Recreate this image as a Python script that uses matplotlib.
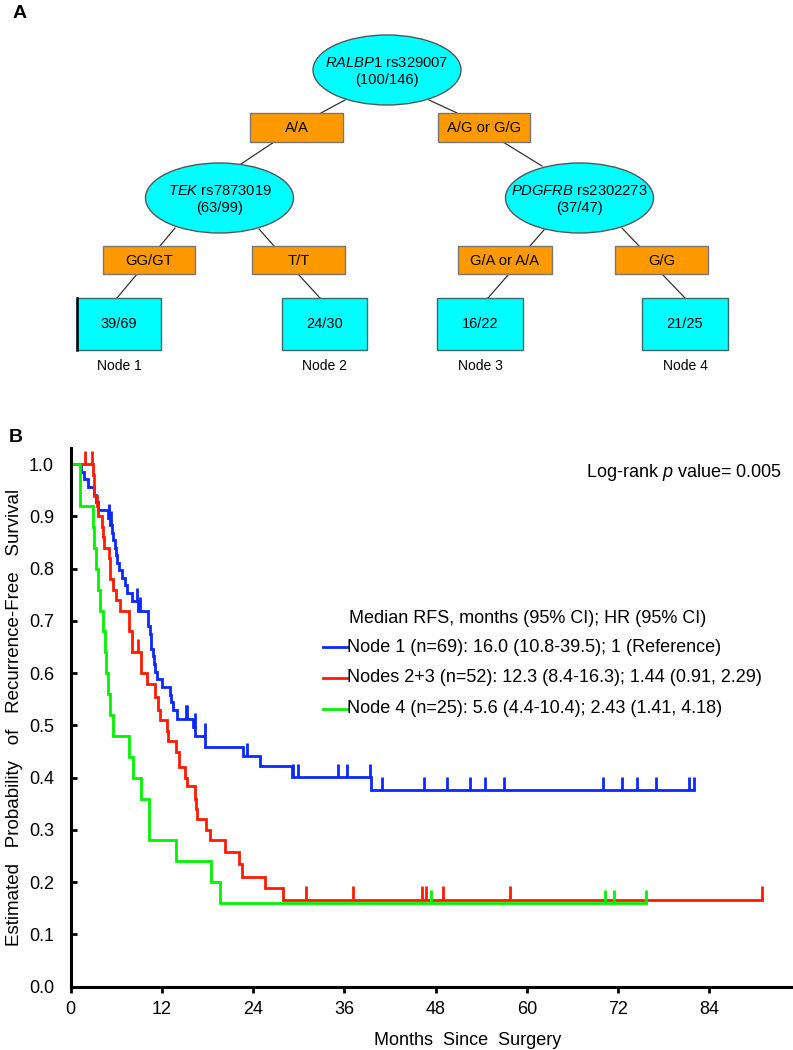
import numpy as np
import matplotlib
matplotlib.use('Agg')
import matplotlib.pyplot as plt
from matplotlib.patches import Ellipse, Rectangle

# ---- data: panel A (tree) ----
split_genes = ["RALBP1", "TEK", "PDGFRB"]
split_snps = ["rs329007", "rs7873019", "rs2302273"]
split_counts = ["(100/146)", "(63/99)", "(37/47)"]
branch_labels = ["A/A", "A/G or G/G", "GG/GT", "T/T", "G/A or A/A", "G/G"]
leaf_counts = ["39/69", "24/30", "16/22", "21/25"]
leaf_names = ["Node 1", "Node 2", "Node 3", "Node 4"]

# ---- data: panel B (Kaplan-Meier curves) ----
blue_t = [0, 1.4, 1.7, 2.3, 3.0, 3.3, 3.6, 4.95, 5.1, 5.4, 5.5, 5.8, 5.9, 6.05, 6.4, 6.7, 7.2, 7.4, 8.0, 8.9,
          10.1, 10.2, 10.4, 10.5, 10.6, 10.8, 10.9, 11.1, 11.3, 12.0, 13.1, 13.2, 13.4, 14.0, 16.1, 16.4, 17.7,
          22.6, 24.9, 29.1, 39.5]
blue_s = [1.0, 0.986, 0.971, 0.957, 0.942, 0.928, 0.913, 0.898, 0.884, 0.869, 0.855, 0.840, 0.826, 0.811, 0.797,
          0.782, 0.768, 0.753, 0.738, 0.720, 0.705, 0.690, 0.676, 0.661, 0.646, 0.632, 0.617, 0.603, 0.588, 0.574,
          0.559, 0.544, 0.529, 0.513, 0.497, 0.479, 0.459, 0.441, 0.422, 0.401, 0.376]
blue_cens = [5.0, 5.3, 8.7, 9.1, 15.1, 15.3, 16.3, 17.6, 23.2, 29.3, 29.9, 35.1, 36.4, 39.4, 41.0, 46.5, 49.5,
             52.5, 54.5, 57.0, 70.0, 72.5, 74.5, 77.0, 81.4, 82.0]
blue_end = 82.0

red_t = [0, 2.9, 3.0, 3.1, 3.5, 3.6, 4.1, 4.3, 4.4, 5.0, 5.1, 5.2, 5.6, 6.0, 6.5, 7.6, 7.7, 8.0, 8.1, 9.2,
         9.3, 10.0, 11.1, 11.5, 11.75, 12.6, 12.8, 13.9, 14.2, 14.3, 15.0, 15.3, 16.4, 16.5, 16.6, 17.8, 18.3,
         20.3, 22.1, 22.5, 25.6, 27.9]
red_s = [1.0, 0.98, 0.96, 0.94, 0.92, 0.90, 0.88, 0.86, 0.84, 0.82, 0.80, 0.78, 0.76, 0.74, 0.72, 0.70, 0.68,
         0.66, 0.64, 0.62, 0.60, 0.58, 0.555, 0.53, 0.51, 0.49, 0.47, 0.45, 0.43, 0.42, 0.40, 0.385, 0.36, 0.34,
         0.32, 0.30, 0.28, 0.258, 0.235, 0.21, 0.188, 0.166]
red_cens = [1.9, 2.8, 8.9, 31.0, 37.1, 46.2, 46.8, 49.0, 57.8, 91.0]
red_end = 91.0

green_t = [0, 1.2, 2.9, 3.1, 3.3, 3.6, 3.9, 4.3, 4.5, 4.7, 4.9, 5.1, 5.5, 7.6, 8.2, 9.2, 10.3, 13.9, 18.5, 19.6]
green_s = [1.0, 0.92, 0.88, 0.84, 0.80, 0.76, 0.72, 0.68, 0.64, 0.60, 0.56, 0.52, 0.48, 0.44, 0.40, 0.36, 0.28,
           0.24, 0.20, 0.16]
green_cens = [47.4, 70.3, 71.5, 75.7]
green_end = 75.7

legend_header = "Median RFS, months (95% CI); HR (95% CI)"
legend_labels = ["Node 1 (n=69): 16.0 (10.8-39.5); 1 (Reference)",
                 "Nodes 2+3 (n=52): 12.3 (8.4-16.3); 1.44 (0.91, 2.29)",
                 "Node 4 (n=25): 5.6 (4.4-10.4); 2.43 (1.41, 4.18)"]
logrank_p = "0.005"
x_ticks = [0, 12, 24, 36, 48, 60, 72, 84]
y_ticks = [0.0, 0.1, 0.2, 0.3, 0.4, 0.5, 0.6, 0.7, 0.8, 0.9, 1.0]

plt.rcParams['font.family'] = ['Liberation Sans', 'DejaVu Sans']
plt.rcParams['mathtext.fontset'] = 'custom'
plt.rcParams['mathtext.rm'] = 'Liberation Sans'
plt.rcParams['mathtext.it'] = 'Liberation Sans:italic'

fig = plt.figure(figsize=(7.93, 10.5), dpi=100)

# ---------- panel A: tree drawn in pixel coordinates ----------
tx = fig.add_axes([0, 0, 1, 1])
tx.set_xlim(0, 793)
tx.set_ylim(1050, 0)
tx.axis('off')

ell_pos = [(387, 70), (219.5, 198), (579.5, 198)]
branch_box = [(250, 113, 93, 29), (438, 113, 92, 29), (103, 246, 92, 28),
              (252, 246, 93, 28), (458, 246, 94, 28), (615, 246, 93, 28)]
leaf_box = [(77, 298, 84, 52), (282, 298, 85, 52), (437, 298, 86, 52), (642, 298, 86, 52)]
connectors = [((345, 100), (321, 113)), ((429, 100), (457, 113)),
              ((274, 142), (241, 164)), ((503, 142), (542, 166)),
              ((175, 228), (160, 246)), ((259, 229), (274, 246)),
              ((137, 274), (117, 298)), ((298, 274), (320, 298)),
              ((544, 230), (530, 246)), ((622, 228), (639, 246)),
              ((509, 274), (488, 298)), ((662, 274), (685, 298))]

for (x0, y0), (x1, y1) in connectors:
    tx.plot([x0, x1], [y0, y1], color='#333333', lw=0.9, zorder=1)

for (cx, cy), gene, snp, cnt in zip(ell_pos, split_genes, split_snps, split_counts):
    tx.add_patch(Ellipse((cx, cy), 148, 70, facecolor='#00FFFF', edgecolor='#555555', lw=1.0, zorder=2))
    tx.text(cx, cy - 7, r'$\mathit{%s}$ %s' % (gene, snp), ha='center', va='center', fontsize=10.6, zorder=3)
    tx.text(cx, cy + 10, cnt, ha='center', va='center', fontsize=10.6, zorder=3)

for (x, y, w, h), lab in zip(branch_box, branch_labels):
    tx.add_patch(Rectangle((x, y), w, h, facecolor='#FF9900', edgecolor='#777777', lw=1.0, zorder=2))
    tx.text(x + w / 2, y + h / 2 + 1, lab, ha='center', va='center', fontsize=10.6, zorder=3)

for (x, y, w, h), cnt, name in zip(leaf_box, leaf_counts, leaf_names):
    tx.add_patch(Rectangle((x, y), w, h, facecolor='#00FFFF', edgecolor='#3A6A6A', lw=1.0, zorder=2))
    tx.text(x + w / 2, y + h / 2, cnt, ha='center', va='center', fontsize=10.5, zorder=3)
    tx.text(x + w / 2, y + h + 16, name, ha='center', va='center', fontsize=10, zorder=3)
x, y, w, h = leaf_box[0]
tx.plot([x, x], [y, y + h], color='black', lw=1.8, zorder=3)

tx.text(20, 14, 'A', ha='center', va='center', fontsize=14, fontweight='bold')
tx.text(16, 438, 'B', ha='center', va='center', fontsize=14, fontweight='bold')

# ---------- panel B: Kaplan-Meier ----------
ax = fig.add_axes([0.0892, 0.0603, 0.9092, 0.513])

curves = [(blue_t, blue_s, blue_cens, blue_end, '#0A28FF'),
          (red_t, red_s, red_cens, red_end, '#FF1A00'),
          (green_t, green_s, green_cens, green_end, '#00F400')]

for t, s, cens, end, col in curves:
    t = np.array(t + [end])
    s = np.array(s + [s[-1]])
    ax.step(t, s, where='post', color=col, lw=2.0, solid_joinstyle='miter')
    cens = np.array(cens)
    idx = np.searchsorted(t, cens, side='right') - 1
    level = s[idx]
    ax.vlines(cens, level, level + 0.026, color=col, lw=2.0)

ax.set_xlim(0, 94.85)
ax.set_ylim(0, 1.031)
ax.set_xticks(x_ticks)
ax.set_yticks(y_ticks)
ax.set_yticklabels(['%.1f' % v for v in y_ticks])
ax.tick_params(axis='y', direction='in', length=4, width=2, labelsize=13, pad=12)
ax.tick_params(axis='x', direction='out', length=4, width=2, labelsize=13, pad=6)
for side in ['top', 'right']:
    ax.spines[side].set_visible(False)
for side in ['left', 'bottom']:
    ax.spines[side].set_linewidth(2.2)

ax.set_xlabel('Months  Since  Surgery', fontsize=13)
ax.xaxis.set_label_coords(0.55, -0.085)
ax.set_ylabel('Estimated   Probability   of   Recurrence-Free   Survival', fontsize=13.5)
ax.yaxis.set_label_coords(-0.066, 0.5)

ax.text(93.5, 0.985, 'Log-rank $p$ value= ' + logrank_p, ha='right', va='center', fontsize=13)

ax.text(36.6, 0.705, legend_header, ha='left', va='center', fontsize=13)
leg_y = [0.650, 0.591, 0.532]
for (t, s, cens, end, col), lab, yy in zip(curves, legend_labels, leg_y):
    ax.plot([33.2, 36.3], [yy, yy], color=col, lw=2.0)
    ax.text(36.4, yy, lab, ha='left', va='center', fontsize=13)

fig.savefig('out.png', dpi=100)
